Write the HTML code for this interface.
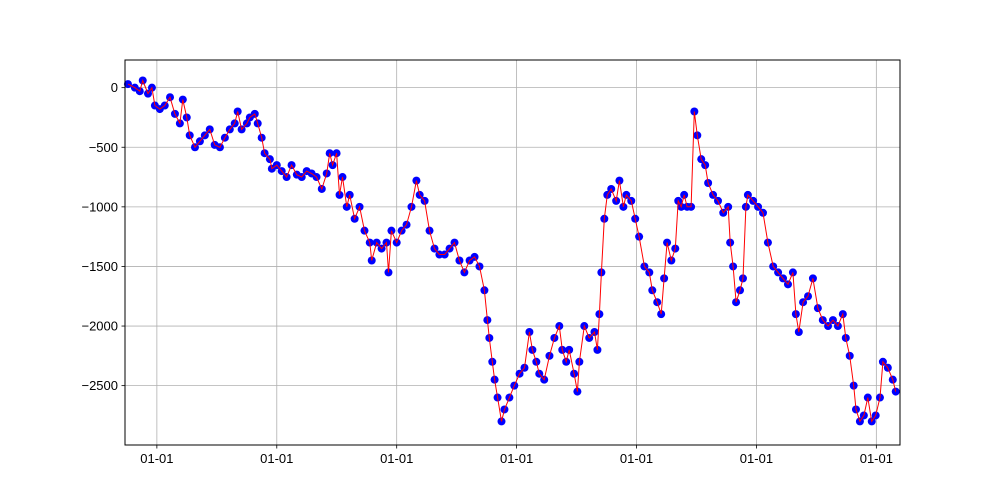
<!DOCTYPE html>
<html><head><meta charset="utf-8"><style>
html,body{margin:0;padding:0;background:#fff;}
svg{display:block;font-family:"Liberation Sans","DejaVu Sans",sans-serif;}
</style></head><body>
<svg id="chart" width="1000" height="500" viewBox="0 0 1000 500">
<rect x="0" y="0" width="1000" height="500" fill="#fff"/>
<g id="grid"></g>
<g id="series"></g>
<rect x="125" y="60" width="775" height="385" fill="none" stroke="#000" stroke-width="1"/>
<g id="axes"></g>
</svg>
<script>
const days=[-88,-67,-52,-43,-27,-15,-6,9,24,40,55,70,79,91,100,116,131,146,161,176,192,207,222,237,246,258,274,283,298,307,319,328,344,350,365,380,395,410,426,441,456,471,486,502,517,526,535,547,556,565,578,587,602,617,632,648,654,669,684,699,705,714,730,745,760,775,790,800,815,830,845,860,876,891,906,921,936,952,967,982,997,1006,1012,1021,1028,1037,1049,1058,1073,1088,1104,1119,1134,1143,1155,1164,1179,1195,1210,1225,1234,1246,1255,1270,1280,1286,1301,1316,1332,1341,1347,1353,1362,1371,1383,1398,1408,1420,1429,1444,1456,1468,1484,1499,1508,1523,1535,1544,1553,1566,1578,1587,1596,1605,1614,1626,1636,1645,1657,1669,1678,1693,1708,1724,1739,1745,1754,1763,1775,1784,1793,1799,1815,1830,1845,1860,1876,1891,1906,1921,1936,1945,1954,1967,1982,1997,2012,2027,2043,2058,2073,2088,2097,2109,2121,2128,2140,2152,2164,2176,2188,2201,2210,2225,2240,2249];
const values=[30,0,-30,60,-50,0,-150,-180,-150,-80,-220,-300,-100,-250,-400,-500,-450,-400,-350,-480,-500,-420,-350,-300,-200,-350,-300,-250,-220,-300,-420,-550,-600,-680,-650,-700,-750,-650,-730,-750,-700,-720,-750,-850,-720,-550,-650,-550,-900,-750,-1000,-900,-1100,-1000,-1200,-1300,-1450,-1300,-1350,-1300,-1550,-1200,-1300,-1200,-1150,-1000,-780,-900,-950,-1200,-1350,-1400,-1400,-1350,-1300,-1450,-1550,-1450,-1420,-1500,-1700,-1950,-2100,-2300,-2450,-2600,-2800,-2700,-2600,-2500,-2400,-2350,-2050,-2200,-2300,-2400,-2450,-2250,-2100,-2000,-2200,-2300,-2200,-2400,-2550,-2300,-2000,-2100,-2050,-2200,-1900,-1550,-1100,-900,-850,-950,-780,-1000,-900,-950,-1100,-1250,-1500,-1550,-1700,-1800,-1900,-1600,-1300,-1450,-1350,-950,-1000,-900,-1000,-1000,-200,-400,-600,-650,-800,-900,-950,-1050,-1000,-1300,-1500,-1800,-1700,-1600,-1000,-900,-950,-1000,-1050,-1300,-1500,-1550,-1600,-1650,-1550,-1900,-2050,-1800,-1750,-1600,-1850,-1950,-2000,-1950,-2000,-1900,-2100,-2250,-2500,-2700,-2800,-2750,-2600,-2800,-2750,-2600,-2300,-2350,-2450,-2550];
const yTicks=[0,-500,-1000,-1500,-2000,-2500];
const xTicks=[0,365,730,1095,1460,1825,2190];
const xTickLabels=["01-01","01-01","01-01","01-01","01-01","01-01","01-01"];

const X0=125,X1=900,Y0=60,Y1=445,D0=-97,D1=2262,V0=232,V1=-2998;
const xs=d=>X0+(d-D0)/(D1-D0)*(X1-X0);
const ys=v=>Y0+(V0-v)/(V0-V1)*(Y1-Y0);
const NS="http://www.w3.org/2000/svg";
function mk(tag,attrs,parent){const e=document.createElementNS(NS,tag);for(const k in attrs)e.setAttribute(k,attrs[k]);parent.appendChild(e);return e;}
const grid=document.getElementById('grid'),axes=document.getElementById('axes'),ser=document.getElementById('series');
xTicks.forEach((t,i)=>{
  const x=xs(t);
  const g=mk('line',{x1:x,x2:x,y1:Y0,y2:Y1,stroke:'#b0b0b0','stroke-width':0.8},grid);
  
  
  const tk=mk('line',{x1:x,x2:x,y1:Y1,y2:Y1+3.5,stroke:'#000','stroke-width':0.8},axes);
  
  
  const tx=mk('text',{x:x,y:Y1+18,'text-anchor':'middle','font-size':'13px',fill:'#000'},axes);
  tx.textContent=xTickLabels[i];
  
  
});
yTicks.forEach(t=>{
  const y=ys(t);
  const g=mk('line',{x1:X0,x2:X1,y1:y,y2:y,stroke:'#b0b0b0','stroke-width':0.8},grid);
  
  
  const tk=mk('line',{x1:X0-3.5,x2:X0,y1:y,y2:y,stroke:'#000','stroke-width':0.8},axes);
  
  
  const tx=mk('text',{x:X0-7,y:y+4.5,'text-anchor':'end','font-size':'13px',fill:'#000'},axes);
  tx.textContent=String(t).replace('-','\u2212');
  
  
});
values.forEach((v,i)=>{
  const c=mk('circle',{cx:xs(days[i]),cy:ys(v),r:4,fill:'#0000ff'},ser);
  
  
});
const pts=values.map((v,i)=>xs(days[i]).toFixed(1)+','+ys(v).toFixed(1)).join(' ');
const pl=mk('polyline',{points:pts,fill:'none',stroke:'#ff0000','stroke-width':1},ser);


</script>
</body></html>
